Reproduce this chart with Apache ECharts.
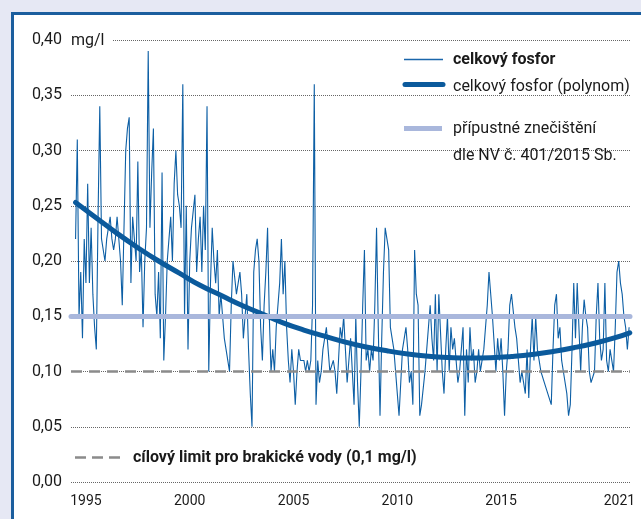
<!DOCTYPE html>
<html><head><meta charset="utf-8">
<script src="https://cdn.jsdelivr.net/npm/echarts@6/dist/echarts.min.js"></script>
<style>html,body{margin:0;padding:0;background:#e6e8f4;} #c{width:641px;height:519px;}</style>
</head><body><div id="c"></div>
<script>
// ---- data ----
const startYear = 1995; // monthly values from January 1995
const phosphorus = [
  0.22,0.31,0.15,0.19,0.13,0.22,0.18,0.27,0.18,0.23,0.17,0.14, // 1995
  0.12,0.24,0.34,0.22,0.22,0.20,0.22,0.22,0.24,0.22,0.21,0.22, // 1996
  0.24,0.24,0.20,0.16,0.16,0.30,0.32,0.33,0.18,0.24,0.22,0.20, // 1997
  0.29,0.19,0.21,0.14,0.20,0.23,0.39,0.23,0.28,0.32,0.17,0.15, // 1998
  0.19,0.13,0.28,0.11,0.15,0.20,0.22,0.24,0.20,0.27,0.30,0.26, // 1999
  0.25,0.23,0.36,0.15,0.25,0.12,0.20,0.23,0.23,0.26,0.19,0.22, // 2000
  0.24,0.19,0.25,0.21,0.34,0.10,0.18,0.23,0.20,0.18,0.21,0.15, // 2001
  0.17,0.15,0.13,0.12,0.11,0.10,0.16,0.20,0.20,0.17,0.18,0.19, // 2002
  0.17,0.13,0.15,0.17,0.12,0.08,0.05,0.19,0.21,0.22,0.20,0.14, // 2003
  0.11,0.16,0.19,0.23,0.15,0.10,0.12,0.10,0.14,0.14,0.18,0.22, // 2004
  0.17,0.20,0.14,0.11,0.09,0.12,0.10,0.07,0.10,0.12,0.11,0.11, // 2005
  0.11,0.10,0.11,0.10,0.11,0.16,0.36,0.07,0.11,0.09,0.10,0.12, // 2006
  0.13,0.14,0.12,0.10,0.10,0.11,0.10,0.08,0.11,0.14,0.13,0.15, // 2007
  0.12,0.09,0.11,0.13,0.10,0.07,0.15,0.09,0.05,0.10,0.16,0.21, // 2008
  0.11,0.12,0.10,0.12,0.11,0.16,0.23,0.14,0.06,0.13,0.19,0.23, // 2009
  0.22,0.21,0.14,0.13,0.12,0.10,0.08,0.06,0.09,0.12,0.13,0.14, // 2010
  0.12,0.09,0.10,0.07,0.21,0.17,0.16,0.06,0.07,0.07,0.10,0.12, // 2011
  0.14,0.16,0.13,0.11,0.17,0.10,0.17,0.17,0.10,0.08,0.12,0.15, // 2012
  0.10,0.14,0.12,0.13,0.11,0.09,0.10,0.12,0.14,0.06,0.12,0.09, // 2013
  0.14,0.11,0.12,0.09,0.10,0.12,0.10,0.11,0.12,0.14,0.16,0.19, // 2014
  0.19,0.15,0.15,0.10,0.13,0.11,0.13,0.10,0.06,0.10,0.12,0.16, // 2015
  0.17,0.17,0.14,0.13,0.11,0.09,0.10,0.09,0.08,0.12,0.076,0.12, // 2016
  0.15,0.11,0.15,0.12,0.11,0.10,0.10,0.09,0.09,0.08,0.08,0.07, // 2017
  0.12,0.16,0.17,0.13,0.14,0.11,0.10,0.10,0.08,0.06,0.07,0.12, // 2018
  0.18,0.13,0.18,0.18,0.10,0.14,0.165,0.15,0.14,0.10,0.09,0.09, // 2019
  0.10,0.15,0.18,0.13,0.11,0.12,0.18,0.11,0.10,0.12,0.11,0.10, // 2020
  0.14,0.19,0.20,0.18,0.17,0.15,0.14,0.12,0.14                  // 2021
];
const trendYears  = [1995,1996,1997,1998,1999,2000,2001,2002,2003,2004,2005,2006,2007,2008,2009,2010,2011,2012,2013,2014,2015,2016,2017,2018,2019,2020,2021,2021.7];
const trendValues = [0.253,0.239,0.225,0.212,0.200,0.189,0.178,0.169,0.160,0.152,0.144,0.1375,0.132,0.1266,0.1222,0.1187,0.1159,0.1139,0.1127,0.1122,0.1125,0.1136,0.1154,0.1181,0.1215,0.1256,0.1306,0.135];
const limitNV = 0.15;        // přípustné znečištění
const limitBrackish = 0.10;  // cílový limit pro brakické vody
const xLabelYears = [1995, 2000, 2005, 2010, 2015, 2021];
const xLabelPos   = [1995.5, 2000.5, 2005.5, 2010.5, 2015.5, 2021.2];
const yMin = 0, yMax = 0.40, yStep = 0.05;

// ---- chart ----
const FONT = 'Roboto';
const DARK = '#0b5a9c';
const LIGHT = '#a9b7dc';
const GREY = '#8b8b8b';
const TXT = '#1a1a1a';

const seriesData = phosphorus.map((v, i) => [startYear + i / 12, v]);
const trendData = trendYears.map((y, i) => [y, trendValues[i]]);

const chart = echarts.init(document.getElementById('c'), null, {renderer: 'canvas'});
chart.setOption({
  backgroundColor: '#e6e8f4',
  animation: false,
  textStyle: {fontFamily: FONT},
  grid: {left: 71, right: 11, top: 40, bottom: 37, containLabel: false},
  xAxis: {
    type: 'value', min: 1994.78, max: 2021.71,
    axisLine: {show: false}, axisTick: {show: false}, splitLine: {show: false},
    axisLabel: {
      customValues: xLabelPos,
      formatter: v => String(xLabelYears[xLabelPos.indexOf(v)] ?? Math.floor(v)),
      fontFamily: FONT, fontSize: 14, color: TXT, margin: 12
    }
  },
  yAxis: {
    type: 'value', min: yMin, max: yMax, interval: yStep,
    axisLine: {show: false}, axisTick: {show: false},
    splitLine: {show: true, lineStyle: {color: '#666', width: 1, type: [1, 1]}},
    axisLabel: {
      formatter: v => v.toFixed(2).replace('.', ','),
      fontFamily: FONT, fontSize: 16, color: TXT, margin: 9
    }
  },
  series: [
    {
      name: 'limits', type: 'line', data: [], z: 1, silent: true,
      markLine: {
        symbol: 'none', silent: true, label: {show: false}, animation: false,
        data: [
          {yAxis: limitNV, lineStyle: {color: LIGHT, width: 5, type: 'solid', cap: 'round'}},
          {yAxis: limitBrackish, lineStyle: {color: GREY, width: 2.5, type: [11, 7]}}
        ]
      }
    },
    {
      name: 'celkový fosfor', type: 'line', data: seriesData, z: 3,
      showSymbol: false, lineStyle: {color: '#0d5fa5', width: 1.1}
    },
    {
      name: 'celkový fosfor (polynom)', type: 'line', data: trendData, z: 4, smooth: true,
      showSymbol: false, lineStyle: {color: DARK, width: 5, cap: 'round'}
    }
  ],
  graphic: [
    {type: 'rect', z: -100, shape: {x: 12.5, y: 13.5, width: 700, height: 600},
     style: {fill: '#ffffff', stroke: '#1b5e9e', lineWidth: 3}},
    {type: 'rect', z: 100, shape: {x: 68, y: 33, width: 44, height: 15}, style: {fill: '#ffffff'}},
    {type: 'text', z: 101, x: 71, y: 41, style: {text: 'mg/l', font: '16px ' + FONT, fill: TXT, verticalAlign: 'middle'}},
    // legend (top right)
    {type: 'line', z: 100, shape: {x1: 404, y1: 59.5, x2: 443, y2: 59.5}, style: {stroke: '#1a66ab', lineWidth: 1.5}},
    {type: 'text', z: 101, x: 453, y: 60, style: {text: 'celkový fosfor', font: 'bold 16px ' + FONT, fill: TXT, verticalAlign: 'middle'}},
    {type: 'line', z: 100, shape: {x1: 405, y1: 84.5, x2: 443, y2: 84.5}, style: {stroke: DARK, lineWidth: 5, lineCap: 'round'}},
    {type: 'text', z: 101, x: 453, y: 87, style: {text: 'celkový fosfor (polynom)', font: '16px ' + FONT, fill: TXT, verticalAlign: 'middle'}},
    {type: 'line', z: 100, shape: {x1: 404, y1: 128.5, x2: 442, y2: 128.5}, style: {stroke: LIGHT, lineWidth: 5}},
    {type: 'text', z: 101, x: 453, y: 129, style: {text: 'přípustné znečištění', font: '16px ' + FONT, fill: TXT, verticalAlign: 'middle'}},
    {type: 'text', z: 101, x: 453, y: 156, style: {text: 'dle NV č. 401/2015 Sb.', font: '16px ' + FONT, fill: TXT, verticalAlign: 'middle'}},
    // legend (bottom)
    {type: 'line', z: 100, shape: {x1: 75, y1: 457.5, x2: 121, y2: 457.5}, style: {stroke: GREY, lineWidth: 2.5, lineDash: [11, 6]}},
    {type: 'text', z: 101, x: 133, y: 458, style: {text: 'cílový limit pro brakické vody (0,1 mg/l)', font: 'bold 16px ' + FONT, fill: TXT, verticalAlign: 'middle'}}
  ]
});
</script>
</body></html>
